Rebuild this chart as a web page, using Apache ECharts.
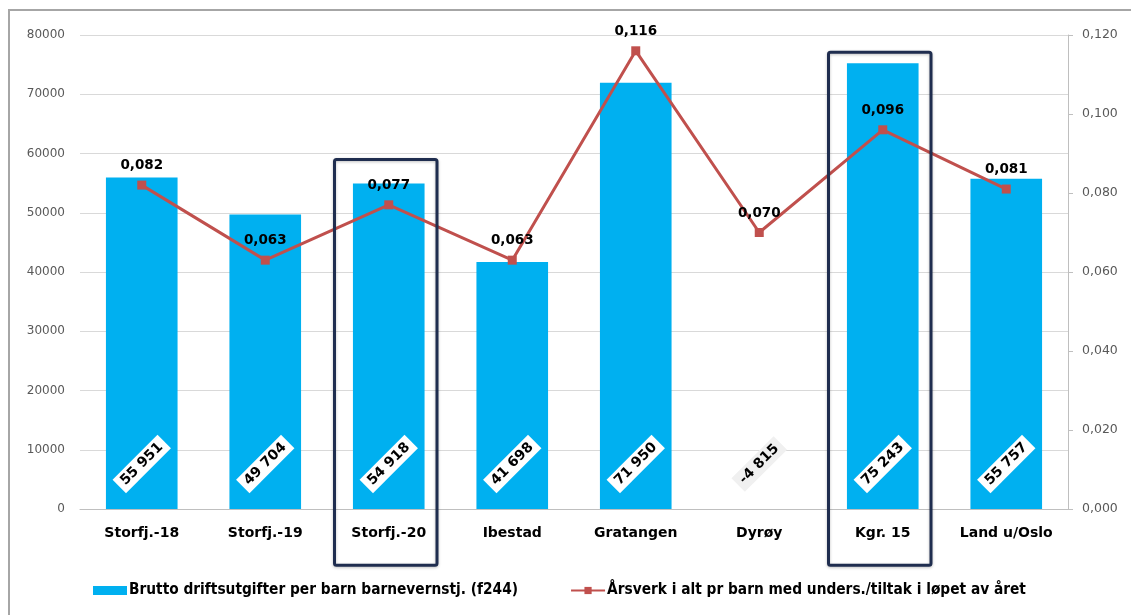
<!DOCTYPE html>
<html>
<head>
<meta charset="utf-8">
<script src="https://cdn.jsdelivr.net/npm/echarts@6/dist/echarts.min.js"></script>
<style>
  html, body { margin: 0; padding: 0; background: #fff; overflow: hidden; }
  #wrap { position: relative; width: 1131px; height: 615px; overflow: hidden; }
  #chart { position: absolute; left: 0; top: 0; width: 1131px; height: 615px; }
  .edge { position: absolute; background: #a6a6a6; pointer-events: none; }
  #edgeTop { left: 8px; top: 9px; width: 1123px; height: 2px; }
  #edgeLeft { left: 8px; top: 9px; width: 2px; height: 606px; }
</style>
</head>
<body>
<div id="wrap">
  <div id="chart"></div>
  <div class="edge" id="edgeTop"></div>
  <div class="edge" id="edgeLeft"></div>
</div>
<script>
// Kommunesammenligning barnevern
const categories = ['Storfj.-18', 'Storfj.-19', 'Storfj.-20', 'Ibestad', 'Gratangen', 'Dyrøy', 'Kgr. 15', 'Land u/Oslo'];
const utgifter = [55951, 49704, 54918, 41698, 71950, -4815, 75243, 55757];
const aarsverk = [0.082, 0.063, 0.077, 0.063, 0.116, 0.070, 0.096, 0.081];
const leftTicks = { min: 0, max: 80000, interval: 10000 };
const rightTicks = { min: 0, max: 0.12, interval: 0.02 };
// Highlighted categories and the axis value of each frame's top edge
const framedCategories = ['Storfj.-20', 'Kgr. 15'];
const frameTops = [59000, 77100];
const frameBottom = -9500;

const barName = 'Brutto driftsutgifter per barn barnevernstj. (f244)';
const lineName = 'Årsverk i alt pr barn med unders./tiltak i løpet av året';

const FONT = '"DejaVu Sans", Verdana, sans-serif';
const FONT_COND = '"DejaVu Sans Condensed", "DejaVu Sans", sans-serif';

function spaced(v) {
  const s = String(Math.abs(Math.round(v))).replace(/\B(?=(\d{3})+(?!\d))/g, ' ');
  return (v < 0 ? '-' : '') + s;
}
function comma3(v) { return v.toFixed(3).replace('.', ','); }

const barData = utgifter.map(v => {
  const item = { value: v };
  if (v < 0) {
    item.label = { position: 'insideTop', backgroundColor: '#f0f0f0', distance: -45 };
  }
  return item;
});

const chart = echarts.init(document.getElementById('chart'), null, { renderer: 'canvas' });
chart.setOption({
  animation: false,
  textStyle: { fontFamily: FONT },
  grid: { left: 80, right: 63, top: 35, bottom: 106, containLabel: false },
  legend: {
    bottom: 12,
    left: 88,
    itemGap: 52,
    itemWidth: 34,
    itemHeight: 9,
    textStyle: { fontFamily: FONT_COND, fontSize: 15.3, fontWeight: 'bold', color: '#000',
                 padding: [0, 0, 0, -3] },
    data: [
      { name: barName, icon: 'rect', itemStyle: { color: '#00b0f0' } },
      { name: lineName }
    ]
  },
  xAxis: {
    type: 'category',
    data: categories,
    axisLine: { lineStyle: { color: '#bfbfbf', width: 1 } },
    axisTick: { show: false },
    axisLabel: { color: '#000', fontSize: 14, fontWeight: 'bold', margin: 17, fontFamily: FONT }
  },
  yAxis: [
    {
      type: 'value',
      min: leftTicks.min, max: leftTicks.max, interval: leftTicks.interval,
      axisLine: { show: false },
      axisTick: { show: false },
      splitLine: { lineStyle: { color: '#d9d9d9', width: 1 } },
      axisLabel: { color: '#595959', fontSize: 12, margin: 15, fontFamily: FONT, formatter: v => String(v) }
    },
    {
      type: 'value',
      position: 'right',
      min: rightTicks.min, max: rightTicks.max, interval: rightTicks.interval,
      axisLine: { show: true, lineStyle: { color: '#bfbfbf', width: 1 } },
      axisTick: { show: true, length: 5, lineStyle: { color: '#bfbfbf' } },
      splitLine: { show: false },
      axisLabel: { color: '#595959', fontSize: 12.5, margin: 14, fontFamily: FONT, formatter: v => comma3(v) }
    }
  ],
  series: [
    {
      name: barName,
      type: 'bar',
      yAxisIndex: 0,
      data: barData,
      barCategoryGap: '42%',
      itemStyle: { color: '#00b0f0' },
      label: {
        show: true,
        position: 'insideBottom',
        distance: 45,
        rotate: 45,
        align: 'center',
        verticalAlign: 'middle',
        color: '#000',
        fontSize: 14,
        fontWeight: 'bold',
        fontFamily: FONT,
        backgroundColor: '#ffffff',
        padding: [3, 5, 2, 5],
        formatter: p => spaced(p.value)
      }
    },
    {
      name: lineName,
      type: 'line',
      yAxisIndex: 1,
      data: aarsverk,
      symbol: 'rect',
      symbolSize: 9,
      lineStyle: { color: '#c0504d', width: 3 },
      itemStyle: { color: '#c0504d' },
      z: 5,
      label: {
        show: true,
        position: 'top',
        distance: 8,
        color: '#000',
        fontSize: 13.5,
        fontWeight: 'bold',
        fontFamily: FONT,
        formatter: p => comma3(p.value)
      }
    }
  ]
});

// Frames around the highlighted categories, placed through the axes
function drawFrames() {
  const graphics = framedCategories.map((cat, i) => {
    const top = chart.convertToPixel({ xAxisIndex: 0, yAxisIndex: 0 }, [cat, frameTops[i]]);
    const bot = chart.convertToPixel({ xAxisIndex: 0, yAxisIndex: 0 }, [cat, frameBottom]);
    const band = chart.getModel().getComponent('xAxis', 0).axis.getBandWidth();
    const w = band * 0.83;
    return {
      type: 'rect',
      shape: { x: top[0] - w / 2 - 3, y: top[1], width: w, height: bot[1] - top[1], r: 2 },
      style: { fill: 'none', stroke: '#1f2d4f', lineWidth: 3,
               shadowColor: 'rgba(0,0,0,0.25)', shadowBlur: 3, shadowOffsetY: 1 },
      z: 10
    };
  });
  chart.setOption({ graphic: graphics });
}
drawFrames();
</script>
</body>
</html>
